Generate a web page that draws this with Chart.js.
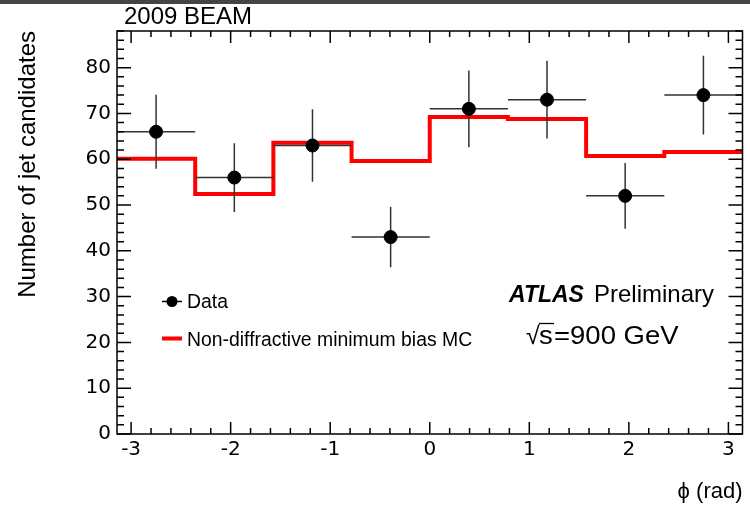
<!DOCTYPE html>
<html lang="en">
<head>
<meta charset="UTF-8">
<title>Jet candidates vs phi</title>
<script src="https://cdn.jsdelivr.net/npm/chart.js"></script>
<style>
  body { margin: 0; background: #fff; }
  .wrap { position: relative; width: 750px; height: 505px; }
</style>
</head>
<body>
<div class="wrap"><canvas id="phiChart" width="750" height="505"></canvas></div>
<script>
// bin edges in phi (rad), 8 bins of pi/4
const binEdges = [-3.1416, -2.3562, -1.5708, -0.7854, 0, 0.7854, 1.5708, 2.3562, 3.1416];
const binCentres = [-2.749, -1.963, -1.178, -0.393, 0.393, 1.178, 1.963, 2.749];
const dataCounts = [66, 56, 63, 43, 71, 73, 52, 74];
const dataErrors = [8.1, 7.5, 7.9, 6.6, 8.4, 8.5, 7.2, 8.6];
const mcCounts = [60.1, 52.4, 63.6, 59.6, 69.2, 68.8, 60.7, 61.6];
const xTicks = [-3, -2, -1, 0, 1, 2, 3];
const yTicks = [0, 10, 20, 30, 40, 50, 60, 70, 80];

const FONT = '"Liberation Sans", Arial, Helvetica, sans-serif';
const TICKFONT = '"DejaVu Sans", sans-serif';

const dataPoints = binCentres.map((x, i) => ({ x: x, y: dataCounts[i] }));
// step line: value of bin i sits on its right edge, first point repeats bin 0
const mcPoints = binEdges.map((x, i) => ({ x: x, y: mcCounts[Math.max(i - 1, 0)] }));

// horizontally stretched text
function wideText(ctx, txt, x, y, font, sx) {
    ctx.save();
    ctx.font = font;
    ctx.translate(x, y);
    ctx.scale(sx, 1);
    ctx.fillText(txt, 0, 0);
    const w = ctx.measureText(txt).width * sx;
    ctx.restore();
    return w;
}

// error bars, drawn right after the MC line so markers sit on top
const errorBars = {
    id: 'errorBars',
    afterDatasetDraw(chart, args) {
        if (args.index !== 1) return;
        const ctx = chart.ctx, xs = chart.scales.x, ys = chart.scales.y;
        ctx.save();
        ctx.strokeStyle = '#333';
        ctx.lineWidth = 1.5;
        dataCounts.forEach((v, i) => {
            const px = xs.getPixelForValue(binCentres[i]);
            const py = ys.getPixelForValue(v);
            ctx.beginPath();
            ctx.moveTo(xs.getPixelForValue(binEdges[i]), py);
            ctx.lineTo(xs.getPixelForValue(binEdges[i + 1]), py);
            ctx.moveTo(px, ys.getPixelForValue(v - dataErrors[i]));
            ctx.lineTo(px, ys.getPixelForValue(v + dataErrors[i]));
            ctx.stroke();
        });
        ctx.restore();
    }
};

// ROOT style frame with inward ticks on all sides, plus the text labels
const frameAndText = {
    id: 'frameAndText',
    afterDraw(chart) {
        const ctx = chart.ctx, a = chart.chartArea;
        const xs = chart.scales.x, ys = chart.scales.y;
        ctx.save();
        ctx.fillStyle = '#444';
        ctx.fillRect(0, 0, 750, 4);

        ctx.strokeStyle = '#000';
        ctx.lineWidth = 1.5;
        ctx.strokeRect(a.left, a.top, a.right - a.left, a.bottom - a.top);

        ctx.beginPath();
        for (let k = -16; k <= 16; k++) {
            const v = k / 5;
            if (v < xs.min || v > xs.max) continue;
            const px = xs.getPixelForValue(v);
            const len = (k % 5 === 0) ? 12 : 6;
            ctx.moveTo(px, a.bottom); ctx.lineTo(px, a.bottom - len);
            ctx.moveTo(px, a.top); ctx.lineTo(px, a.top + len);
        }
        for (let v = 0; v <= ys.max; v += 2) {
            const py = ys.getPixelForValue(v);
            const len = (v % 10 === 0) ? 14 : 7;
            ctx.moveTo(a.left, py); ctx.lineTo(a.left + len, py);
            ctx.moveTo(a.right, py); ctx.lineTo(a.right - len, py);
        }
        ctx.stroke();

        ctx.fillStyle = '#000';
        ctx.textBaseline = 'alphabetic';
        ctx.textAlign = 'left';
        ctx.font = '24px ' + FONT;
        ctx.fillText('2009 BEAM', 124, 24);

        // legend
        ctx.strokeStyle = '#000';
        ctx.lineWidth = 1.5;
        ctx.beginPath();
        ctx.moveTo(162, 301.5); ctx.lineTo(182, 301.5);
        ctx.stroke();
        ctx.beginPath();
        ctx.arc(172, 301.5, 5.5, 0, Math.PI * 2);
        ctx.fill();
        ctx.strokeStyle = '#ff0000';
        ctx.lineWidth = 4;
        ctx.beginPath();
        ctx.moveTo(162, 338.5); ctx.lineTo(182, 338.5);
        ctx.stroke();
        ctx.font = '19.4px ' + FONT;
        ctx.fillText('Data', 187, 308);
        ctx.fillText('Non-diffractive minimum bias MC', 187, 346);

        ctx.font = 'italic bold 23px ' + FONT;
        ctx.fillText('ATLAS', 509, 302);
        ctx.font = '24px ' + FONT;
        ctx.fillText('Preliminary', 594, 302);

        // sqrt(s) = 900 GeV
        ctx.font = '25px ' + FONT;
        ctx.fillText('\u221A', 526, 344);
        wideText(ctx, 's', 539, 344, '25px ' + FONT, 1.1);
        wideText(ctx, '=900 GeV', 554, 344, '25px ' + FONT, 1.1);
        ctx.lineWidth = 1.3;
        ctx.strokeStyle = '#000';
        ctx.beginPath();
        ctx.moveTo(539, 323.5); ctx.lineTo(554, 323.5);
        ctx.stroke();
        ctx.restore();
    }
};

const ctx = document.getElementById('phiChart').getContext('2d');
new Chart(ctx, {
    type: 'scatter',
    data: {
        datasets: [
            {
                label: 'Data',
                data: dataPoints,
                backgroundColor: '#000',
                borderColor: '#000',
                pointRadius: 6.5,
                showLine: false,
                order: 1
            },
            {
                label: 'Non-diffractive minimum bias MC',
                type: 'line',
                data: mcPoints,
                stepped: 'after',
                borderColor: '#ff0000',
                borderWidth: 4,
                pointRadius: 0,
                fill: false,
                order: 2
            }
        ]
    },
    options: {
        responsive: false,
        animation: false,
        layout: { padding: { top: 31, right: 3, left: 0, bottom: 0 } },
        plugins: { legend: { display: false }, tooltip: { enabled: false } },
        scales: {
            x: {
                type: 'linear',
                min: binEdges[0],
                max: binEdges[binEdges.length - 1],
                afterBuildTicks: s => { s.ticks = xTicks.map(v => ({ value: v })); },
                afterFit: s => { s.height = 71; },
                grid: { display: false, drawTicks: false, tickLength: 0 },
                border: { display: false },
                ticks: { color: '#000', padding: 4, maxRotation: 0, font: { family: TICKFONT, size: 20 } },
                title: {
                    display: true, text: '\u03D5 (rad)', align: 'end', color: '#000',
                    padding: { top: 0, bottom: 0 }, font: { family: FONT, size: 22 }
                }
            },
            y: {
                min: 0,
                max: 88,
                afterBuildTicks: s => { s.ticks = yTicks.map(v => ({ value: v })); },
                afterFit: s => { s.width = 117; },
                grid: { display: false, drawTicks: false, tickLength: 0 },
                border: { display: false },
                ticks: { color: '#000', padding: 6, font: { family: TICKFONT, size: 20 } },
                title: {
                    display: true, text: 'Number of jet candidates', align: 'end', color: '#000',
                    padding: { top: 14, bottom: 0 }, font: { family: FONT, size: 24 }
                }
            }
        }
    },
    plugins: [errorBars, frameAndText]
});
</script>
</body>
</html>
